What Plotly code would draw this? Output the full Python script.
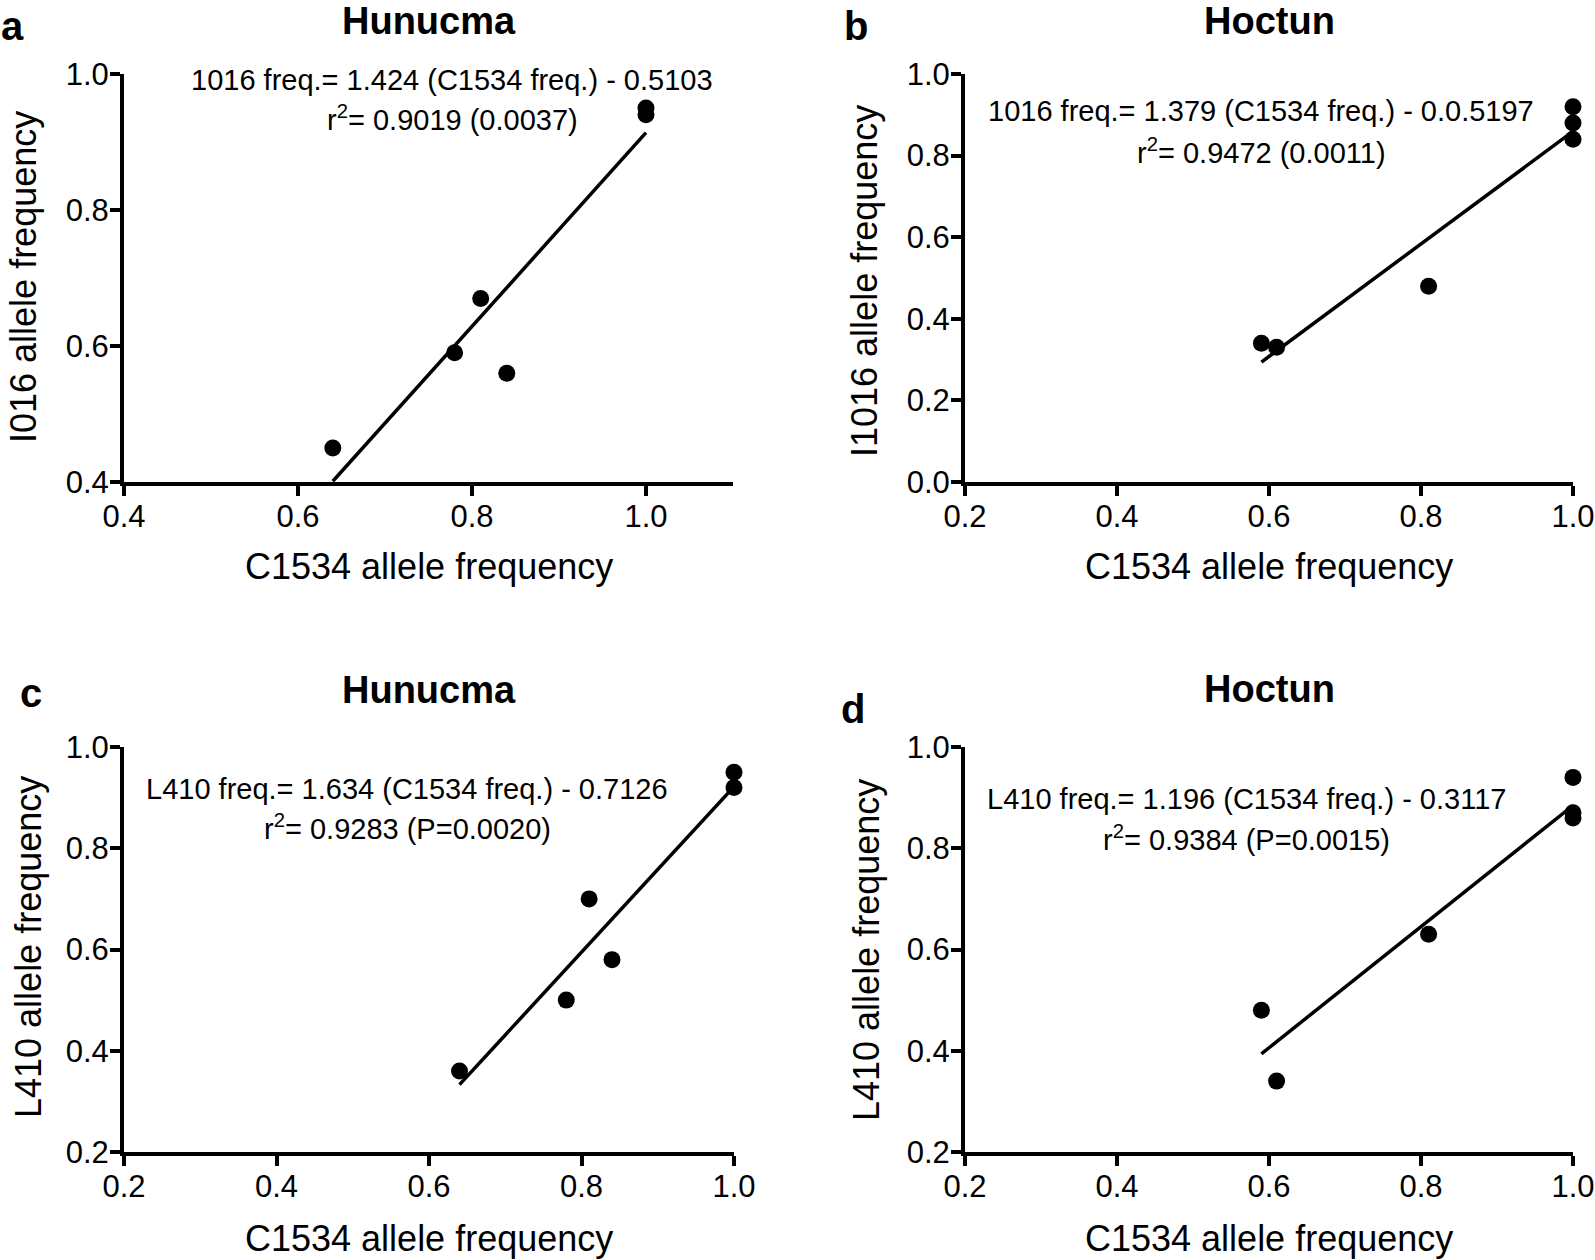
import plotly.graph_objects as go

# ---------------- data ----------------
# Panel a: Hunucma, I016 vs C1534
a_x = [0.64, 0.78, 0.81, 0.84, 1.0, 1.0]
a_y = [0.45, 0.59, 0.67, 0.56, 0.95, 0.94]
a_slope, a_intercept = 1.424, -0.5103
a_fit_x = [0.64, 1.0]

# Panel b: Hoctun, I1016 vs C1534
b_x = [0.59, 0.61, 0.81, 1.0, 1.0, 1.0]
b_y = [0.34, 0.33, 0.48, 0.92, 0.88, 0.84]
b_slope, b_intercept = 1.379, -0.5197
b_fit_x = [0.59, 1.0]

# Panel c: Hunucma, L410 vs C1534
c_x = [0.64, 0.78, 0.81, 0.84, 1.0, 1.0]
c_y = [0.36, 0.50, 0.70, 0.58, 0.95, 0.92]
c_slope, c_intercept = 1.634, -0.7126
c_fit_x = [0.64, 1.0]

# Panel d: Hoctun, L410 vs C1534
d_x = [0.59, 0.61, 0.81, 1.0, 1.0, 1.0]
d_y = [0.48, 0.34, 0.63, 0.94, 0.87, 0.86]
d_slope, d_intercept = 1.196, -0.3117
d_fit_x = [0.59, 1.0]

titles = ["Hunucma", "Hoctun", "Hunucma", "Hoctun"]
letters = ["a", "b", "c", "d"]
y_titles = ["I016 allele frequency", "I1016 allele frequency",
            "L410 allele frequency", "L410 allele frequency"]
x_title = "C1534 allele frequency"
eq_line1 = ["1016 freq.= 1.424 (C1534 freq.) - 0.5103",
            "1016 freq.= 1.379 (C1534 freq.) - 0.0.5197",
            "L410 freq.= 1.634 (C1534 freq.) - 0.7126",
            "L410 freq.= 1.196 (C1534 freq.) - 0.3117"]
eq_line2 = ["r<sup>2</sup>= 0.9019 (0.0037)",
            "r<sup>2</sup>= 0.9472 (0.0011)",
            "r<sup>2</sup>= 0.9283 (P=0.0020)",
            "r<sup>2</sup>= 0.9384 (P=0.0015)"]
x_ranges = [[0.4, 1.1], [0.2, 1.0], [0.2, 1.0], [0.2, 1.0]]
y_ranges = [[0.4, 1.0], [0.0, 1.0], [0.2, 1.0], [0.2, 1.0]]
x_ticks = [[0.4, 0.6, 0.8, 1.0], [0.2, 0.4, 0.6, 0.8, 1.0],
           [0.2, 0.4, 0.6, 0.8, 1.0], [0.2, 0.4, 0.6, 0.8, 1.0]]
y_ticks = [[0.4, 0.6, 0.8, 1.0], [0.0, 0.2, 0.4, 0.6, 0.8, 1.0],
           [0.2, 0.4, 0.6, 0.8, 1.0], [0.2, 0.4, 0.6, 0.8, 1.0]]

# ---------------- layout geometry (pixels) ----------------
W, H = 1595, 1260
def px(x):
    return x / W
def py(y):
    return 1 - y / H

# plot areas: (left, right, top, bottom) in px
areas = [(124, 733, 74, 482), (965, 1573, 74, 482),
         (124, 734, 747, 1152), (965, 1573, 747, 1152)]
title_pos = [(429, 21), (1269, 21), (429, 690), (1269, 689)]
letter_pos = [(12, 26), (856, 26), (31, 693), (853, 709)]
eq1_pos = [(452, 80), (1261, 111), (407, 789), (1246, 799)]
eq2_pos = [(452, 118), (1261, 151), (407, 827), (1246, 838)]
xt_pos = [(429, 566), (1269, 566), (429, 1238), (1269, 1238)]
yt_pos = [(23, 277), (864, 281), (28, 947), (866, 950)]

FONT = "Liberation Sans, Arial, Helvetica, sans-serif"

fig = go.Figure()
data = [(a_x, a_y, a_slope, a_intercept, a_fit_x),
        (b_x, b_y, b_slope, b_intercept, b_fit_x),
        (c_x, c_y, c_slope, c_intercept, c_fit_x),
        (d_x, d_y, d_slope, d_intercept, d_fit_x)]

layout = dict(
    template=go.layout.Template(),
    width=W, height=H, autosize=False,
    margin=dict(l=0, r=0, t=0, b=0, pad=0),
    paper_bgcolor="white", plot_bgcolor="white",
    showlegend=False,
    font=dict(family=FONT, color="black"),
)
annotations = []

for i, (xs, ys, m, b, fx) in enumerate(data):
    sfx = "" if i == 0 else str(i + 1)
    xa, ya = "x" + sfx, "y" + sfx
    fig.add_trace(go.Scatter(
        x=xs, y=ys, mode="markers", xaxis=xa, yaxis=ya,
        marker=dict(color="black", size=17, line=dict(width=0)),
        cliponaxis=False))
    fy = [m * v + b for v in fx]
    fig.add_trace(go.Scatter(
        x=fx, y=fy, mode="lines", xaxis=xa, yaxis=ya,
        line=dict(color="black", width=3.5), cliponaxis=False))
    l, r, t, bt = areas[i]
    common = dict(showline=True, linewidth=4, linecolor="black",
                  ticks="outside", ticklen=10, tickwidth=4, tickcolor="black",
                  showgrid=False, zeroline=False, fixedrange=True,
                  automargin=False,
                  tickfont=dict(family=FONT, size=31, color="black"),
                  tickformat=".1f")
    layout["xaxis" + sfx] = dict(domain=[px(l), px(r)], range=x_ranges[i],
                                 tickvals=x_ticks[i], anchor=ya,
                                 ticklabelstandoff=-6, **common)
    layout["yaxis" + sfx] = dict(domain=[py(bt), py(t)], range=y_ranges[i],
                                 tickvals=y_ticks[i], anchor=xa,
                                 ticklabelstandoff=-5, **common)

    def ann(text, pos, size, bold=False, angle=0):
        annotations.append(dict(
            text=("<b>%s</b>" % text) if bold else text,
            x=px(pos[0]), y=py(pos[1]), xref="paper", yref="paper",
            xanchor="center", yanchor="middle", showarrow=False,
            textangle=angle,
            font=dict(family=FONT, size=size, color="black")))

    ann(titles[i], title_pos[i], 38, bold=True)
    ann(letters[i], letter_pos[i], 40, bold=True)
    ann(eq_line1[i], eq1_pos[i], 29)
    ann(eq_line2[i], eq2_pos[i], 29)
    ann(x_title, xt_pos[i], 36)
    ann(y_titles[i], yt_pos[i], 36, angle=-90)

layout["annotations"] = annotations
fig.update_layout(**layout)
fig.write_html(
    "out.html",
    config={"displayModeBar": False},
    post_script="document.body.style.margin='0';"
                "document.body.style.padding='0';"
                "document.body.style.overflow='hidden';")
